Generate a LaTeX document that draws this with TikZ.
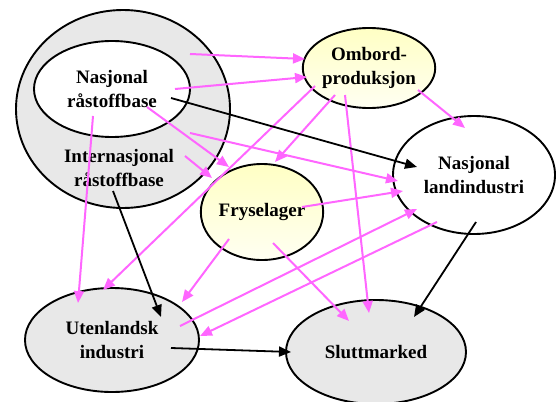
\documentclass[tikz,border=0pt]{standalone}
\usepackage{fontspec}
\setmainfont{Liberation Serif}
\usetikzlibrary{shapes.geometric,arrows.meta,calc}
\definecolor{pinkarrow}{HTML}{FF66FF}
\definecolor{grayfill}{HTML}{E8E8E8}
\definecolor{yeltop}{HTML}{FFFFC4}
\definecolor{yelbot}{HTML}{FFFFF2}
\tikzset{
  ell/.style={ellipse, draw=black, line width=1.9pt, inner sep=0pt, align=center,
    font=\fontsize{19}{23.5}\selectfont\bfseries},
  grayell/.style={ell, fill=grayfill},
  whiteell/.style={ell, fill=white},
  yelell/.style={ell, top color=yeltop, bottom color=yelbot},
  lbl/.style={align=center, font=\fontsize{19}{23.5}\selectfont\bfseries, inner sep=0pt},
  parr/.style={draw=pinkarrow, line width=2pt, -{Triangle[length=12pt,width=10pt]}},
  barr/.style={draw=black, line width=1.8pt, -{Triangle[length=12pt,width=10pt]}},
}
\begin{document}
\begin{tikzpicture}[x=1pt,y=-1pt]
\useasboundingbox (0,0) rectangle (556,401);
% nodes
\node[grayell, minimum width=214pt, minimum height=198pt] (irb) at (123,109) {};
\node[lbl] (irbtext) at (119,168) {Internasjonal\\råstoffbase};
\node[whiteell, minimum width=156pt, minimum height=96pt] (nrb) at (112,89) {Nasjonal\\råstoffbase};
\node[yelell, minimum width=128pt, minimum height=80pt] (omb) at (369,68) {Ombord-\\produksjon};
\node[whiteell, minimum width=162pt, minimum height=118pt] (nli) at (474,175) {Nasjonal\\landindustri};
\node[yelell, minimum width=118pt, minimum height=96pt] (fry) at (262,212) {Fryselager};
\node[grayell, minimum width=174pt, minimum height=104pt] (uti) at (112,340) {Utenlandsk\\industri};
\node[grayell, minimum width=180pt, minimum height=104pt] (slm) at (376,352) {Sluttmarked};
% pink arrows
\draw[parr] ([shift={(78,-35)}]nrb.center) -- ([shift={(-64,-9)}]omb.center);
\draw[parr] ([shift={(63,0)}]nrb.center) -- ([shift={(-62,9)}]omb.center);
\draw[parr] ([shift={(35,18)}]nrb.center) -- ([shift={(-33,-45)}]fry.center);
\draw[parr] ([shift={(67,24)}]irb.center) -- ([shift={(-76,6)}]nli.center);
\draw[parr] ([shift={(62,47)}]irb.center) -- ([shift={(-50,-34)}]fry.center);
\draw[parr] ([shift={(-19,27)}]nrb.center) -- ([shift={(-34,-37)}]uti.center);
\draw[parr] ([shift={(-34,27)}]omb.center) -- ([shift={(13,-50)}]fry.center);
\draw[parr] ([shift={(-54,18)}]omb.center) -- ([shift={(-9,-50)}]uti.center);
\draw[parr] ([shift={(-33,27)}]fry.center) -- ([shift={(70,-38)}]uti.center);
\draw[parr] ([shift={(68,-14)}]uti.center) -- ([shift={(-57,34)}]nli.center);
\draw[parr] ([shift={(-37,47)}]nli.center) -- ([shift={(88,-4)}]uti.center);
\draw[parr] ([shift={(11,31)}]fry.center) -- ([shift={(-27,-31)}]slm.center);
\draw[parr] ([shift={(-24,27)}]omb.center) -- ([shift={(-7,-39)}]slm.center);
\draw[parr] ([shift={(49,22)}]omb.center) -- ([shift={(-9,-47)}]nli.center);
\draw[parr] ([shift={(40,-5)}]fry.center) -- ([shift={(-71,16)}]nli.center);
% black arrows
\draw[barr] ([shift={(59,9)}]nrb.center) -- ([shift={(-57,-8)}]nli.center);
\draw[barr] ([shift={(-10,82)}]irb.center) -- ([shift={(49,-23)}]uti.center);
\draw[barr] ([shift={(2,47)}]nli.center) -- ([shift={(38,-35)}]slm.center);
\draw[barr] ([shift={(59,8)}]uti.center) -- ([shift={(-85,0)}]slm.center);
\end{tikzpicture}
\end{document}
